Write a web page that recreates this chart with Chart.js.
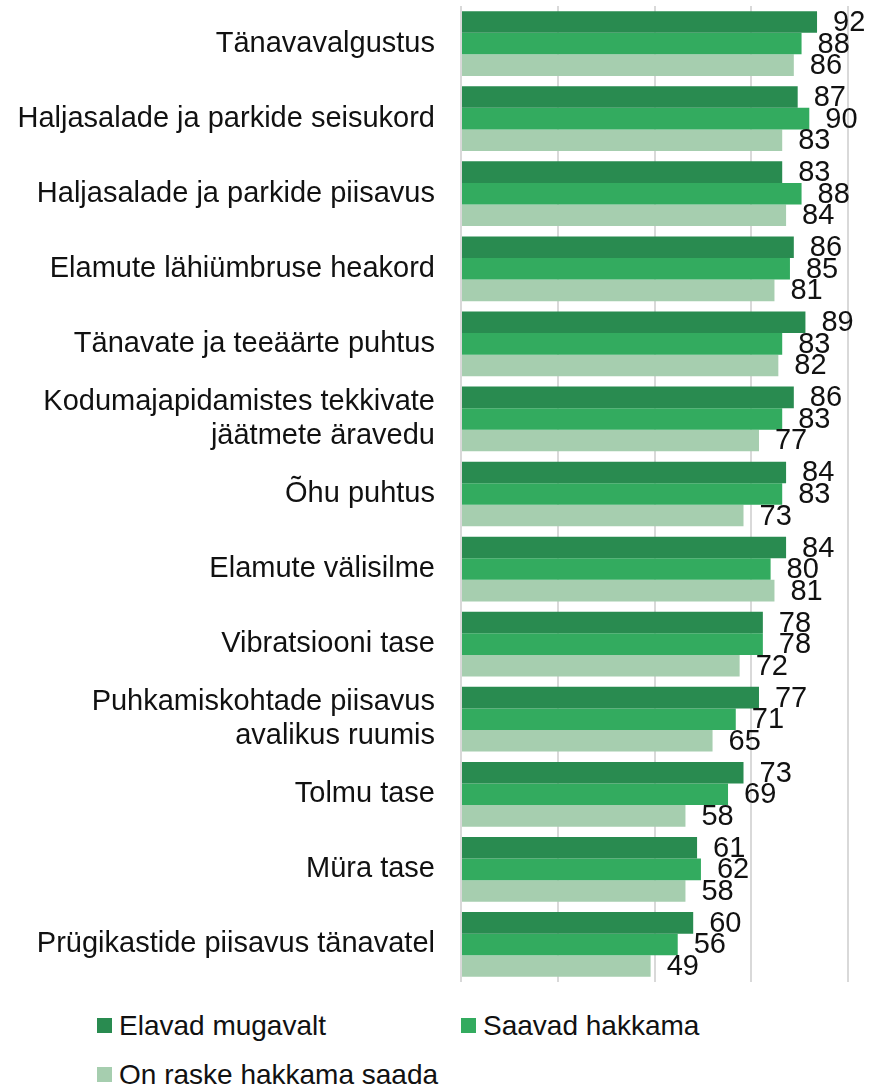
<!DOCTYPE html>
<html>
<head>
<meta charset="utf-8">
<script src="https://cdn.jsdelivr.net/npm/chart.js@4.4.1/dist/chart.umd.min.js"></script>
<style>
    body { margin: 0; background: #fff; font-family: "Liberation Sans", Arial, sans-serif; }
    #wrap { position: relative; width: 869px; height: 1087px; }
    #chartBox { position: absolute; left: 0; top: 0; width: 869px; height: 990px; }
    #legend { position: absolute; left: 97px; top: 1001px; width: 760px; display: flex; flex-wrap: wrap; }
    .item { width: 364px; height: 49px; display: flex; align-items: center; font-size: 28px; color: #111; }
    .box { width: 15px; height: 15px; margin-right: 7px; flex: none; }
</style>
</head>
<body>
<div id="wrap">
    <div id="chartBox"><canvas id="chart"></canvas></div>
    <div id="legend"></div>
</div>
<script>
"use strict";

// kategooriad
const categories = [
    'Tänavavalgustus',
    'Haljasalade ja parkide seisukord',
    'Haljasalade ja parkide piisavus',
    'Elamute lähiümbruse heakord',
    'Tänavate ja teeäärte puhtus',
    ['Kodumajapidamistes tekkivate', 'jäätmete äravedu'],
    'Õhu puhtus',
    'Elamute välisilme',
    'Vibratsiooni tase',
    ['Puhkamiskohtade piisavus', 'avalikus ruumis'],
    'Tolmu tase',
    'Müra tase',
    'Prügikastide piisavus tänavatel'
];

// seeriad
const seriesNames = ['Elavad mugavalt', 'Saavad hakkama', 'On raske hakkama saada'];
const elavadMugavalt = [92, 87, 83, 86, 89, 86, 84, 84, 78, 77, 73, 61, 60];
const saavadHakkama  = [88, 90, 88, 85, 83, 83, 83, 80, 78, 71, 69, 62, 56];
const onRaske        = [86, 83, 84, 81, 82, 77, 73, 81, 72, 65, 58, 58, 49];

// x-telg
const xTicks = [0, 25, 50, 75, 100];

const colors = ['#298B50', '#33AB5F', '#A6CEAF'];
const FONT = '"Liberation Sans", Arial, sans-serif';

//--väärtuste sildid--
const valueLabels = {
    id: 'valueLabels',
    afterDatasetsDraw(chart) {
        const ctx = chart.ctx;
        ctx.save();
        ctx.font = '29px ' + FONT;
        ctx.fillStyle = '#111';
        ctx.textAlign = 'left';
        ctx.textBaseline = 'middle';
        chart.data.datasets.forEach((ds, i) => {
            chart.getDatasetMeta(i).data.forEach((bar, j) => {
                ctx.fillText(ds.data[j], bar.x + 16, bar.y + 1);
            });
        });
        ctx.restore();
    }
};

const data = {
    labels: categories,
    datasets: [
        { label: seriesNames[0], data: elavadMugavalt, backgroundColor: colors[0] },
        { label: seriesNames[1], data: saavadHakkama, backgroundColor: colors[1] },
        { label: seriesNames[2], data: onRaske, backgroundColor: colors[2] }
    ]
};

const config = {
    type: 'bar',
    data: data,
    plugins: [valueLabels],
    options: {
        indexAxis: 'y',
        responsive: true,
        maintainAspectRatio: false,
        animation: false,
        layout: {
            padding: { top: 6, right: 21, bottom: 8, left: 0 }
        },
        datasets: {
            bar: {
                categoryPercentage: 0.862,
                barPercentage: 1.0,
                borderWidth: 0
            }
        },
        scales: {
            x: {
                min: 0,
                max: 100,
                afterBuildTicks: (scale) => {
                    scale.ticks = xTicks.map(v => ({ value: v }));
                },
                afterFit: (scale) => { scale.height = 0; },
                ticks: { display: false },
                grid: { color: '#D9D9D9', lineWidth: 2, drawTicks: false },
                border: { display: false }
            },
            y: {
                afterFit: (scale) => {
                    scale.width = 461;
                    scale.paddingTop = 0;
                    scale.paddingBottom = 0;
                },
                ticks: {
                    padding: 26,
                    autoSkip: false,
                    color: '#111',
                    font: { family: FONT, size: 29, lineHeight: 1.16 }
                },
                grid: { display: false, drawTicks: false },
                border: { display: false }
            }
        },
        plugins: {
            legend: { display: false },
            tooltip: { enabled: false }
        }
    }
};

const chart = new Chart(document.getElementById('chart'), config);

// legend
const legendBox = document.getElementById('legend');
chart.data.datasets.forEach(ds => {
    const item = document.createElement('div');
    item.className = 'item';
    const box = document.createElement('span');
    box.className = 'box';
    box.style.background = ds.backgroundColor;
    const txt = document.createElement('span');
    txt.textContent = ds.label;
    item.appendChild(box);
    item.appendChild(txt);
    legendBox.appendChild(item);
});
</script>
</body>
</html>
